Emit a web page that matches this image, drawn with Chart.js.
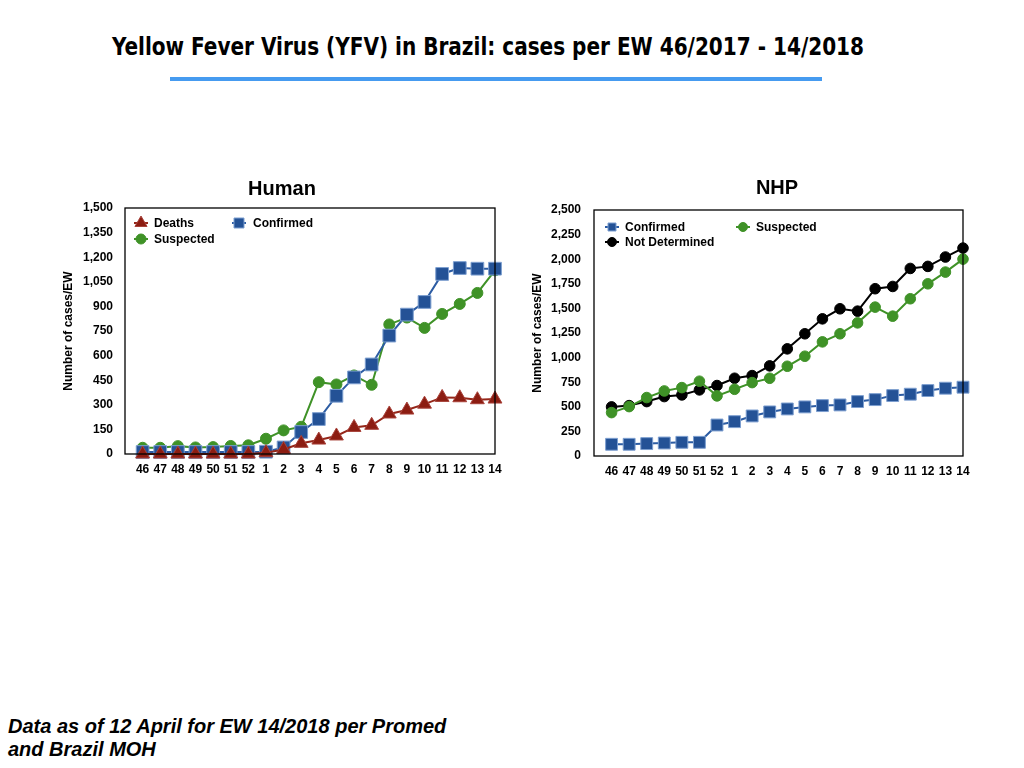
<!DOCTYPE html>
<html>
<head>
<meta charset="utf-8">
<script src="https://cdn.jsdelivr.net/npm/chart.js@4.4.1/dist/chart.umd.min.js"></script>
<style>
  html, body { margin:0; padding:0; background:#fff; }
  body { width:1024px; height:768px; position:relative; overflow:hidden; font-family:"Liberation Sans", Arial, sans-serif; }
  #title { position:absolute; left:112px; top:32px; font-weight:bold; font-size:25px; line-height:30px; white-space:nowrap; color:#000; transform-origin:0 0; font-family:"Liberation Sans Narrow","DejaVu Sans Condensed","Liberation Sans",sans-serif; }
  #rule { position:absolute; left:170px; top:77px; width:652px; height:4px; background:#469bf0; }
  #note { position:absolute; left:8px; top:715px; font-weight:bold; font-style:italic; font-size:20px; line-height:23px; color:#000; }
  .box { position:absolute; top:170px; width:450px; height:320px; }
  #human { left:55px; }
  #nhp { left:525px; }
</style>
</head>
<body>
<div id="title">Yellow Fever Virus (YFV) in Brazil: cases per EW 46/2017 - 14/2018</div>
<div id="rule"></div>
<div id="note">Data as of 12 April for EW 14/2018 per Promed<br>and Brazil MOH</div>
<div class="box" id="human"><canvas id="c1" width="450" height="320"></canvas></div>
<div class="box" id="nhp"><canvas id="c2" width="450" height="320"></canvas></div>
<script>
// ---- data ----
const weeks = ['46','47','48','49','50','51','52','1','2','3','4','5','6','7','8','9','10','11','12','13','14'];
const humanDeaths    = [0,0,0,0,0,0,0,8,28,65,85,110,162,175,244,268,304,345,343,331,335];
const humanConfirmed = [12,12,12,12,12,12,12,14,40,134,213,355,467,546,722,850,927,1098,1134,1130,1130];
const humanSuspected = [38,38,48,40,42,49,53,93,144,166,438,424,479,422,790,832,769,854,915,982,1120];
const nhpConfirmed     = [119,119,126,132,139,139,315,349,407,448,478,499,512,519,553,573,614,628,665,689,699];
const nhpSuspected     = [441,502,594,661,695,760,611,678,746,790,912,1014,1160,1242,1353,1513,1421,1598,1750,1869,2001];
const nhpNotDetermined = [499,512,553,604,621,672,716,790,817,916,1089,1242,1394,1496,1472,1700,1723,1906,1927,2022,2113];

// fit title width
(function(){
  const t = document.getElementById('title');
  const w = t.getBoundingClientRect().width;
  t.style.transform = 'scaleX(' + (752 / w) + ')';
})();

const pts = arr => arr.map((v, i) => ({x: i, y: v}));
const FONT = "'Liberation Sans', Arial, sans-serif";

function drawMarker(ctx, style, x, y, r, fill, stroke) {
  ctx.save();
  ctx.fillStyle = fill; ctx.strokeStyle = stroke; ctx.lineWidth = 1;
  ctx.beginPath();
  if (style === 'triangle') {
    ctx.moveTo(x, y - r);
    ctx.lineTo(x + r * 0.866, y + r * 0.5);
    ctx.lineTo(x - r * 0.866, y + r * 0.5);
    ctx.closePath();
  } else if (style === 'rect') {
    ctx.rect(x - r, y - r, 2 * r, 2 * r);
  } else {
    ctx.arc(x, y, r, 0, Math.PI * 2);
  }
  ctx.fill(); ctx.stroke();
  ctx.restore();
}

const frameLegend = {
  id: 'frameLegend',
  afterDraw(chart, args, opts) {
    const {ctx, chartArea: a} = chart;
    ctx.save();
    ctx.strokeStyle = '#000'; ctx.lineWidth = 1.3;
    ctx.strokeRect(a.left, a.top, a.right - a.left, a.bottom - a.top);
    // chart title
    ctx.font = 'bold 20px ' + FONT;
    ctx.textBaseline = 'middle'; ctx.textAlign = 'center'; ctx.fillStyle = '#000';
    ctx.fillText(opts.title.text, opts.title.x, opts.title.y);
    // legend
    ctx.font = 'bold 12px ' + FONT;
    ctx.textAlign = 'left';
    (opts.items || []).forEach(it => {
      const ds = chart.data.datasets[it.ds];
      const mx = a.left + it.mx, my = a.top + it.my;
      ctx.strokeStyle = ds.borderColor; ctx.lineWidth = 2;
      ctx.beginPath(); ctx.moveTo(mx - 7, my); ctx.lineTo(mx + 7, my); ctx.stroke();
      drawMarker(ctx, ds.pointStyle, mx, my, it.r, ds.pointBackgroundColor, ds.pointBorderColor);
      ctx.fillStyle = '#000';
      ctx.fillText(ds.label, a.left + it.tx, my + 0.5);
    });
    ctx.restore();
  }
};

function makeOptions(cfg) {
  return {
    responsive: false,
    animation: false,
    locale: 'en-US',
    layout: { padding: { left: 0, right: cfg.padRight, top: cfg.padTop, bottom: 0 } },
    plugins: {
      legend: { display: false },
      tooltip: { enabled: false },
      title: { display: false },
      frameLegend: { items: cfg.items, title: cfg.title }
    },
    scales: {
      x: {
        type: 'linear', min: -1, max: 20,
        grid: { display: false, drawTicks: false }, border: { display: false },
        afterFit: s => { s.height = cfg.xHeight; s.paddingLeft = 0; s.paddingRight = 0; },
        ticks: {
          stepSize: 1, autoSkip: false, maxRotation: 0, padding: 8, color: '#000',
          font: { family: FONT, size: 12, weight: 'bold' },
          callback: v => (v >= 0 && v < weeks.length) ? weeks[v] : ''
        }
      },
      y: {
        min: 0, max: cfg.yMax,
        grid: { display: false, drawTicks: false }, border: { display: false },
        afterFit: s => { s.width = cfg.yWidth; s.paddingTop = 0; s.paddingBottom = 0; },
        title: {
          display: true, text: 'Number of cases/EW', color: '#000',
          font: { family: FONT, size: 12, weight: 'bold', lineHeight: 1.2 },
          padding: { top: cfg.yTitlePad, bottom: 0 }
        },
        ticks: {
          stepSize: cfg.yStep, padding: cfg.yTickPad, color: '#000',
          font: { family: FONT, size: 12, weight: 'bold' }
        }
      }
    }
  };
}

const red = '#8c1d12', blue = '#245296', green = '#3f9227';

new Chart(document.getElementById('c1'), {
  type: 'line',
  data: {
    datasets: [
      { label: 'Deaths', data: pts(humanDeaths), borderColor: '#952619', borderWidth: 2,
        pointStyle: 'triangle', pointRadius: 8, pointBackgroundColor: red, pointBorderColor: '#a8423a', pointBorderWidth: 1, clip: false },
      { label: 'Confirmed', data: pts(humanConfirmed), borderColor: '#2c5ca3', borderWidth: 2,
        pointStyle: 'rect', pointRadius: 9, pointBackgroundColor: blue, pointBorderColor: '#7d9fd0', pointBorderWidth: 1, clip: false },
      { label: 'Suspected', data: pts(humanSuspected), borderColor: green, borderWidth: 2,
        pointStyle: 'circle', pointRadius: 5.5, pointBackgroundColor: green, pointBorderColor: green, pointBorderWidth: 1, clip: false }
    ]
  },
  options: makeOptions({
    title: { text: 'Human', x: 227, y: 19 }, padTop: 38, padRight: 9, xHeight: 36, yWidth: 70,
    yMax: 1500, yStep: 150, yTitlePad: 6, yTickPad: 12,
    items: [
      { ds: 0, mx: 16, my: 15, tx: 29, r: 7 },
      { ds: 2, mx: 16, my: 31, tx: 29, r: 5 },
      { ds: 1, mx: 114, my: 15, tx: 128, r: 5 }
    ]
  }),
  plugins: [frameLegend]
});

new Chart(document.getElementById('c2'), {
  type: 'line',
  data: {
    datasets: [
      { label: 'Suspected', data: pts(nhpSuspected), borderColor: green, borderWidth: 2,
        pointStyle: 'circle', pointRadius: 5.3, pointBackgroundColor: green, pointBorderColor: green, pointBorderWidth: 1, clip: false },
      { label: 'Not Determined', data: pts(nhpNotDetermined), borderColor: '#000', borderWidth: 2,
        pointStyle: 'circle', pointRadius: 5.3, pointBackgroundColor: '#000', pointBorderColor: '#000', pointBorderWidth: 1, clip: false },
      { label: 'Confirmed', data: pts(nhpConfirmed), borderColor: '#2c5ca3', borderWidth: 2,
        pointStyle: 'rect', pointRadius: 8.4, pointBackgroundColor: blue, pointBorderColor: '#7d9fd0', pointBorderWidth: 1, clip: false }
    ]
  },
  options: makeOptions({
    title: { text: 'NHP', x: 252, y: 18 }, padTop: 40, padRight: 12, xHeight: 34, yWidth: 69,
    yMax: 2500, yStep: 250, yTitlePad: 5, yTickPad: 13,
    items: [
      { ds: 2, mx: 18, my: 17, tx: 31, r: 4 },
      { ds: 1, mx: 18, my: 32, tx: 31, r: 4.5 },
      { ds: 0, mx: 149, my: 17, tx: 162, r: 4.5 }
    ]
  }),
  plugins: [frameLegend]
});
</script>
</body>
</html>
